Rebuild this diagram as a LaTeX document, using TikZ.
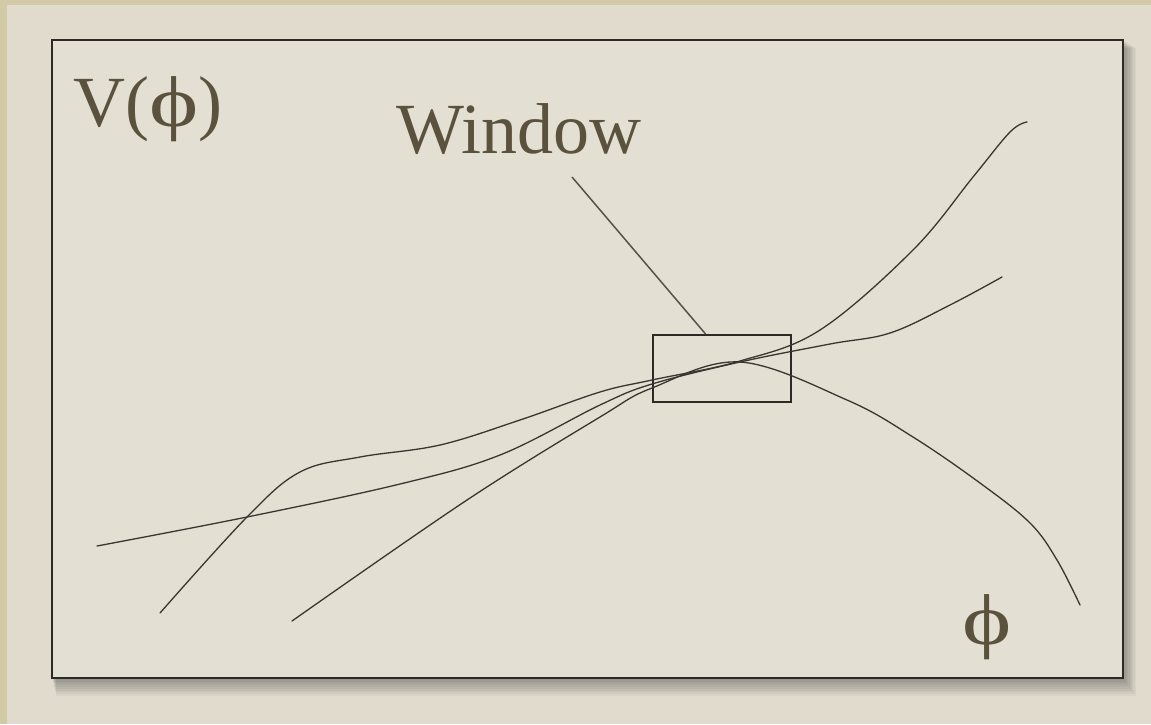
\documentclass[tikz,border=0pt]{standalone}
\usepackage{fontspec}
\setmainfont{Liberation Serif}
\usetikzlibrary{calc}
\definecolor{bgc}{HTML}{E1DBCE}
\definecolor{band}{HTML}{D2CAA6}
\definecolor{panelc}{HTML}{E4DFD3}
\definecolor{ink}{HTML}{2E2925}
\definecolor{txt}{HTML}{5B523E}
\definecolor{curvec}{HTML}{3A3530}
\definecolor{leadc}{HTML}{57514A}
\newcommand{\stphi}{\scalebox{1.3}[1]{\symbol{"03D5}}}
\begin{document}
\begin{tikzpicture}[x=1pt,y=-1pt,
  curveline/.style={draw=curvec, line width=1.3pt, line cap=round, line join=round},
  lbl/.style={text=txt, inner sep=0pt, font=\fontsize{72}{80}\selectfont},
  winbox/.style={draw=ink, line width=1.5pt, minimum width=138pt, minimum height=67pt, inner sep=0pt},
  leader/.style={draw=leadc, line width=1.5pt}
  ]
\useasboundingbox (0,0) rectangle (1151,724);
\fill[bgc] (0,0) rectangle (1151,724);
\fill[band] (0,0) rectangle (1151,5);
\fill[band] (0,0) rectangle (7,724);
% shadow
\foreach \i in {1,...,10} {
  \fill[black, opacity=0.035] (52+\i*0.4,40+\i*0.8) rectangle (1123+\i*1.3,678+\i*1.8);
}
% panel
\filldraw[fill=panelc, draw=ink, line width=1.8pt] (52,40) rectangle (1123,678);

% labels
\node[lbl, anchor=base west] (vphi) at (73,126) {V(\stphi)};
\node[lbl, anchor=base west] (wlabel) at (396,153) {Window};
\node[lbl, anchor=base] (phi) at (987,644) {\stphi};

% window box
\node[winbox, anchor=north west] (win) at (652,334) {};
\coordinate (leadstart) at (572,177);
\draw[leader] (leadstart) -- ($(win.north west)!0.384!(win.north east)$);

% curves
\draw[curveline] plot[smooth, tension=0.6] coordinates {
 (160,613) (247,517) (300,472) (360,457) (440,445) (520,420) (600,392)
 (652,380) (740,361) (820,330) (913,250) (973,177) (1010,132) (1027,122)};
\draw[curveline] plot[smooth, tension=0.6] coordinates {
 (97,546) (247,517) (400,484) (500,455) (600,405) (652,384) (740,362)
 (830,344) (890,333) (950,305) (1002,277)};
\draw[curveline] plot[smooth, tension=0.6] coordinates {
 (292,621) (467,500) (600,417) (652,388) (740,362) (847,400) (913,437)
 (980,483) (1030,523) (1057,560) (1080,605)};
\end{tikzpicture}
\end{document}
